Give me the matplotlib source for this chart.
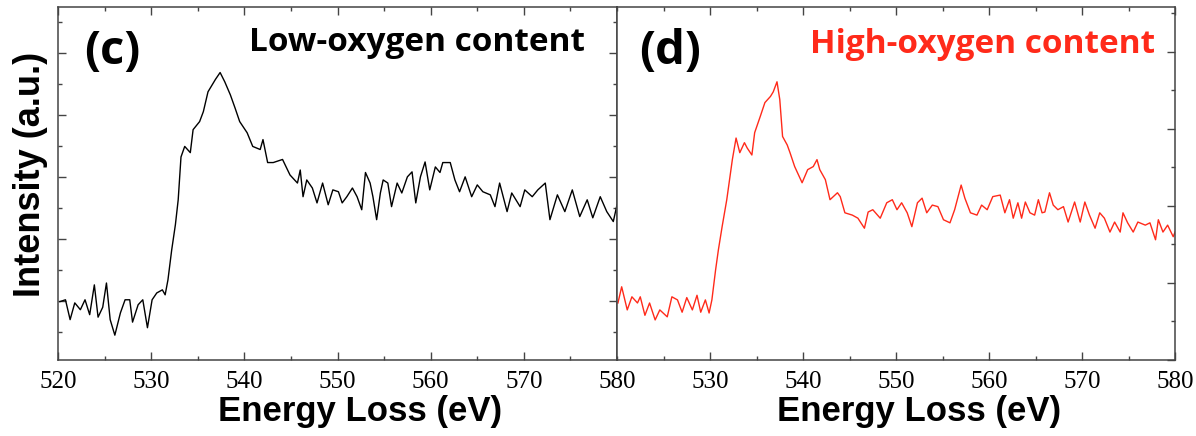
"""
EELS O K-edge spectra: low- vs high-oxygen content.
"""

import numpy as np
import matplotlib
matplotlib.use("Agg")
import matplotlib.pyplot as plt
from matplotlib.ticker import MultipleLocator


# Low-oxygen content (c), energy loss in eV and intensity in a.u.
low_ev = [
    520.2, 520.8, 521.3, 521.8, 522.4, 522.9, 523.4, 523.9, 524.3, 524.8,
    525.2, 525.6, 526.1, 526.7, 527.2, 527.7, 528.0, 528.6, 529.1, 529.6,
    530.1, 530.6, 531.2, 531.5, 531.8, 532.2, 532.6, 532.9, 533.2, 533.6,
    534.2, 534.5, 535.2, 535.6, 536.1, 536.9, 537.4, 537.9, 538.5, 539.0,
    539.5, 540.3, 540.9, 541.7, 542.0, 542.5, 543.1, 544.1, 544.9, 545.7,
    546.0, 546.3, 546.7, 547.3, 547.8, 548.4, 549.0, 549.5, 550.1, 550.5,
    551.0, 551.6, 552.1, 552.6, 553.0, 553.5, 553.8, 554.2, 554.6, 554.9,
    555.4, 555.8, 556.4, 556.9, 557.5, 558.0, 558.4, 558.9, 559.4, 559.9,
    560.5, 561.0, 561.3, 562.1, 562.6, 563.1, 563.7, 564.4, 565.0, 565.6,
    566.4, 566.9, 567.4, 568.2, 568.7, 569.6, 570.1, 570.9, 571.5, 572.3,
    572.8, 573.6, 574.4, 575.2, 576.0, 576.8, 577.4, 578.2, 578.9, 579.6,
    580.0,
]
low_int = [
    0.94, 0.97, 0.65, 0.92, 0.81, 0.97, 0.73, 1.21, 0.69, 0.85,
    1.24, 0.65, 0.40, 0.76, 0.97, 0.97, 0.61, 0.89, 0.97, 0.52,
    0.97, 1.08, 1.13, 1.05, 1.29, 1.77, 2.18, 2.58, 3.27, 3.44,
    3.34, 3.71, 3.84, 4.00, 4.32, 4.52, 4.63, 4.48, 4.27, 4.06,
    3.84, 3.66, 3.44, 3.39, 3.55, 3.18, 3.18, 3.23, 2.98, 2.85,
    3.06, 2.63, 2.90, 2.77, 2.53, 2.85, 2.50, 2.74, 2.71, 2.53,
    2.63, 2.77, 2.63, 2.42, 3.02, 2.85, 2.63, 2.26, 2.69, 2.90,
    2.85, 2.47, 2.85, 2.69, 2.95, 3.03, 2.53, 2.95, 3.19, 2.74,
    3.11, 3.02, 3.18, 3.18, 2.90, 2.71, 2.95, 2.63, 2.82, 2.71,
    2.66, 2.47, 2.85, 2.39, 2.69, 2.47, 2.74, 2.63, 2.74, 2.85,
    2.26, 2.66, 2.39, 2.74, 2.31, 2.58, 2.29, 2.63, 2.39, 2.23,
    2.50,
]

# High-oxygen content (d)
high_ev = [
    520.1, 520.5, 521.1, 521.6, 522.2, 522.5, 523.0, 523.5, 524.1, 524.6,
    525.4, 525.9, 526.5, 527.0, 527.5, 528.1, 528.6, 529.0, 529.5, 529.9,
    530.2, 530.6, 530.9, 531.3, 531.8, 532.4, 532.8, 533.2, 533.7, 534.0,
    534.5, 534.8, 535.4, 535.9, 536.5, 536.8, 537.2, 537.5, 537.8, 538.3,
    538.6, 539.1, 539.9, 540.5, 541.1, 541.5, 541.8, 542.4, 542.9, 543.7,
    544.0, 544.5, 545.3, 545.9, 546.6, 547.0, 547.5, 548.3, 549.0, 549.6,
    550.1, 550.6, 551.2, 551.7, 552.3, 552.8, 553.3, 553.9, 554.5, 555.1,
    555.8, 556.3, 557.0, 557.4, 558.0, 558.7, 559.2, 559.8, 560.4, 561.2,
    561.7, 562.2, 562.6, 563.1, 563.5, 563.9, 564.4, 564.9, 565.3, 565.7,
    566.0, 566.5, 566.9, 567.4, 568.0, 568.5, 569.2, 569.8, 570.3, 570.8,
    571.4, 571.9, 572.4, 573.0, 573.5, 574.1, 574.4, 574.9, 575.5, 576.0,
    576.8, 577.3, 577.9, 578.2, 578.7, 579.2, 579.8, 580.0,
]
high_int = [
    0.74, 0.95, 0.65, 0.82, 0.74, 0.82, 0.58, 0.74, 0.52, 0.65,
    0.56, 0.82, 0.78, 0.62, 0.81, 0.65, 0.84, 0.62, 0.78, 0.61,
    0.78, 1.17, 1.43, 1.73, 2.08, 2.60, 2.88, 2.69, 2.82, 2.75,
    2.66, 2.95, 3.16, 3.34, 3.42, 3.48, 3.61, 3.38, 2.90, 2.79,
    2.69, 2.51, 2.30, 2.47, 2.51, 2.60, 2.47, 2.34, 2.08, 2.17,
    2.12, 1.91, 1.88, 1.84, 1.71, 1.92, 1.95, 1.84, 2.04, 2.08,
    1.95, 2.04, 1.91, 1.73, 2.04, 2.10, 1.91, 2.01, 1.99, 1.82,
    1.78, 1.95, 2.27, 2.10, 1.91, 1.88, 2.01, 1.95, 2.12, 2.14,
    1.91, 2.08, 1.84, 2.04, 1.84, 2.05, 1.91, 1.88, 2.08, 1.91,
    1.92, 2.17, 2.01, 1.95, 1.99, 1.79, 2.05, 1.79, 2.05, 1.88,
    1.71, 1.91, 1.84, 1.66, 1.79, 1.66, 1.91, 1.78, 1.66, 1.79,
    1.75, 1.78, 1.56, 1.82, 1.66, 1.75, 1.60, 1.66,
]

X_TICKS = [520, 530, 540, 550, 560, 570, 580]
RED = "#ff2a1a"
SPINE = "#444444"


def style_axes(ax, ticks):
    for s in ax.spines.values():
        s.set_color(SPINE)
        s.set_linewidth(1.1)
    ax.set_xlim(520, 580)
    ax.set_xticks(ticks)
    ax.xaxis.set_minor_locator(MultipleLocator(5))
    ax.tick_params(which="both", direction="in", color=SPINE, width=1.0,
                   top=True, labelsize=18, pad=8)
    ax.tick_params(which="major", length=6)
    ax.tick_params(which="minor", length=3)
    ax.set_yticklabels([])
    for lab in ax.get_xticklabels():
        lab.set_family("Liberation Serif")
    ax.set_xlabel("Energy Loss (eV)", family="Liberation Sans", weight="bold",
                  fontsize=25, labelpad=0)
    ax.xaxis.set_label_coords(0.541, -0.10, transform=ax.transAxes)
    ax.xaxis.label.set_va("top")


fig = plt.figure(figsize=(11.96, 4.36), dpi=100)
ax1 = fig.add_axes([0.0485, 0.1743, 0.4674, 0.8103])
ax2 = fig.add_axes([0.5159, 0.1743, 0.4666, 0.8103])

# (c) low oxygen
ax1.plot(low_ev, low_int, color="black", lw=1.0)
ax1.set_ylim(0, 5.69)
ax1.yaxis.set_major_locator(MultipleLocator(1, offset=0.95))
ax1.yaxis.set_minor_locator(MultipleLocator(0.5, offset=0.45))
style_axes(ax1, X_TICKS)
ax1.tick_params(which="both", axis="y", left=True, right=True)
ax1.set_ylabel("Intensity (a.u.)", family="Liberation Sans", weight="bold",
               fontsize=26)
ax1.yaxis.set_label_coords(-0.050, 0.524, transform=ax1.transAxes)
ax1.yaxis.label.set_va("center")

# (d) high oxygen
ax2.plot(high_ev, high_int, color=RED, lw=1.0)
ax2.set_ylim(0, 4.584)
ax2.yaxis.set_major_locator(MultipleLocator(1))
ax2.yaxis.set_minor_locator(MultipleLocator(0.5))
style_axes(ax2, X_TICKS[1:])
ax2.tick_params(which="both", axis="y", left=False, right=True)

ax1.text(0.046, 0.873, "(c)", transform=ax1.transAxes, fontsize=34,
         weight="bold", family="Open Sans", va="center", ha="left")
ax1.text(0.943, 0.898, "Low-oxygen content", transform=ax1.transAxes,
         fontsize=24, weight="bold", family="Open Sans", va="center", ha="right")
ax2.text(0.039, 0.873, "(d)", transform=ax2.transAxes, fontsize=34,
         weight="bold", family="Open Sans", va="center", ha="left")
ax2.text(0.964, 0.892, "High-oxygen content", transform=ax2.transAxes,
         fontsize=24, weight="bold", family="Open Sans", va="center",
         ha="right", color=RED)

fig.savefig("out.png", dpi=100)
